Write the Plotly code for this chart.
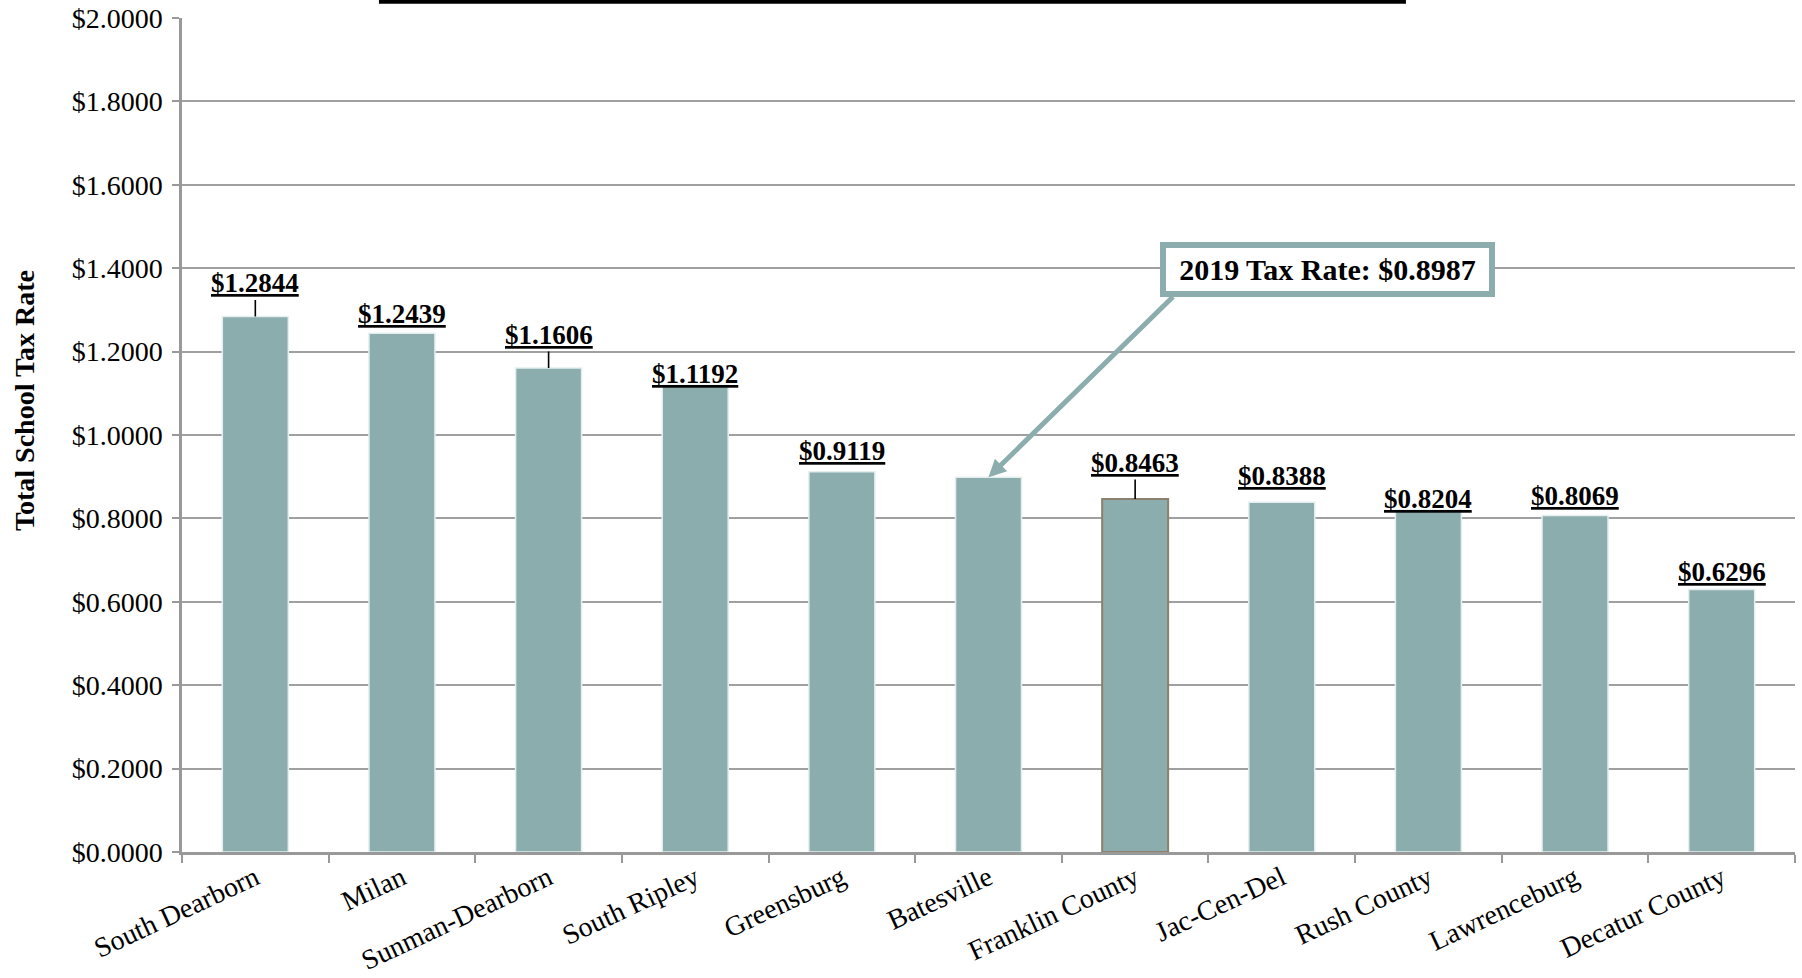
import plotly.graph_objects as go

categories = ["South Dearborn", "Milan", "Sunman-Dearborn", "South Ripley", "Greensburg",
              "Batesville", "Franklin County", "Jac-Cen-Del", "Rush County", "Lawrenceburg",
              "Decatur County"]
tax_rates = [1.2844, 1.2439, 1.1606, 1.1192, 0.9119, 0.8987, 0.8463, 0.8388, 0.8204, 0.8069, 0.6296]
label_text = ["$1.2844", "$1.2439", "$1.1606", "$1.1192", "$0.9119", None, "$0.8463",
              "$0.8388", "$0.8204", "$0.8069", "$0.6296"]
label_offsets = [33, 19, 33, 11, 21, None, 36, 26, 11, 20, 17]
label_leader = [True, False, True, False, False, False, True, False, False, False, False]
highlight_label = "2019 Tax Rate: $0.8987"
highlight_index = 5

BAR = "#8BADAD"
FONT = "Liberation Serif, Times New Roman, serif"

line_colors = ["#E4EEEE"] * len(categories)
line_widths = [1.5] * len(categories)
line_colors[6] = "#8C806F"
line_widths[6] = 2

fig = go.Figure()
fig.add_trace(go.Bar(
    x=categories, y=tax_rates,
    marker=dict(color=BAR, line=dict(color=line_colors, width=line_widths)),
    hoverinfo="x+y",
))

annotations = []
for cat, val, txt, off, lead in zip(categories, tax_rates, label_text, label_offsets, label_leader):
    if txt is None:
        continue
    if lead:
        annotations.append(dict(
            x=cat, y=val, xref="x", yref="y", text="<b><u>" + txt + "</u></b>",
            showarrow=True, ax=0, ay=-off, arrowhead=0, arrowwidth=1.6, arrowcolor="black",
            standoff=0, font=dict(family=FONT, size=27, color="black"),
        ))
    else:
        annotations.append(dict(
            x=cat, y=val, xref="x", yref="y", text="<b><u>" + txt + "</u></b>",
            showarrow=False, yanchor="middle", yshift=off,
            font=dict(family=FONT, size=27, color="black"),
        ))

# callout arrow
annotations.append(dict(
    x=categories[highlight_index], y=tax_rates[highlight_index], xref="x", yref="y",
    text="", showarrow=True, ax=186, ay=-182, arrowhead=2, arrowsize=0.7,
    arrowwidth=5, arrowcolor=BAR, standoff=0,
))
# callout box
annotations.append(dict(
    x=categories[highlight_index], y=tax_rates[highlight_index], xref="x", yref="y",
    text="<b>" + highlight_label + "</b>", showarrow=False,
    xshift=339, yshift=208, width=317, height=37, borderpad=3,
    bordercolor=BAR, borderwidth=6, bgcolor="white",
    font=dict(family=FONT, size=30, color="black"),
))
# y-axis title
annotations.append(dict(
    x=-0.108, y=0.541, xref="paper", yref="paper", text="<b>Total School Tax Rate</b>",
    textangle=-90, showarrow=False, font=dict(family=FONT, size=28, color="black"),
))

fig.update_layout(
    width=1802, height=978,
    margin=dict(l=182, r=7, t=18, b=126),
    paper_bgcolor="white", plot_bgcolor="white",
    showlegend=False,
    bargap=0.55,
    annotations=annotations,
    shapes=[dict(type="rect", xref="paper", yref="paper",
                 x0=0.1221, x1=0.7588, y0=1.017, y1=1.03,
                 fillcolor="black", line=dict(width=0))],
    font=dict(family=FONT, size=26, color="black"),
)
fig.update_xaxes(
    type="category", tickson="boundaries", ticks="outside", ticklen=8, tickwidth=1.5,
    tickcolor="#999999", showline=True, linecolor="#999999", linewidth=2.5,
    tickangle=-25, tickfont=dict(family=FONT, size=28, color="black"), showgrid=False,
    automargin=False, ticklabelstandoff=-4,
)
fig.update_yaxes(
    range=[0, 2], dtick=0.2, tickprefix="$", tickformat=".4f",
    showgrid=True, gridcolor="#A0A0A0", gridwidth=1.5,
    showline=True, linecolor="#999999", linewidth=2.5,
    ticks="outside", ticklen=7, tickwidth=1.5, tickcolor="#999999",
    tickfont=dict(family=FONT, size=28, color="black"), zeroline=False,
    automargin=False, ticklabelstandoff=4,
)

fig.write_html("out.html")
